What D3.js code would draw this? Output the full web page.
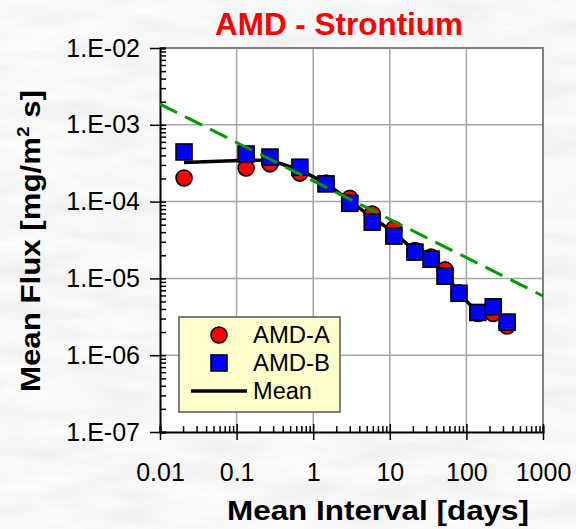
<!DOCTYPE html>
<html>
<head>
<meta charset="utf-8">
<script src="https://cdn.jsdelivr.net/npm/d3@7"></script>
<style>
  html, body { margin: 0; padding: 0; background: #eeeeee; }
  svg { display: block; font-family: "Liberation Sans", Arial, sans-serif; }
</style>
</head>
<body>
<svg id="chart" width="576" height="529"></svg>
<script>
// Mean interval (days) at which the fluxes were averaged
const intervals = [0.0206, 0.133, 0.273, 0.67, 1.47, 3.0, 5.9, 11.3, 21.3, 34.6, 52.6, 80, 141, 224, 340];
// Mean flux, mg/m² s
const amdA = [2.03e-4, 2.74e-4, 3.1e-4, 2.35e-4, 1.75e-4, 1.1e-4, 6.9e-5, 4.4e-5, 2.3e-5, 1.9e-5, 1.29e-5, 6.5e-6, 3.5e-6, 3.5e-6, 2.4e-6];
const amdB = [4.43e-4, 4.17e-4, 3.8e-4, 2.8e-4, 1.7e-4, 9.5e-5, 5.4e-5, 3.56e-5, 2.2e-5, 1.78e-5, 1.07e-5, 6.4e-6, 3.6e-6, 4.26e-6, 2.7e-6];
const meanFlux = [3.23e-4, 3.46e-4, 3.45e-4, 2.58e-4, 1.73e-4, 1.03e-4, 6.15e-5, 4.0e-5, 2.25e-5, 1.84e-5, 1.18e-5, 6.45e-6, 3.55e-6, 3.88e-6, 2.55e-6];
// Reference slope line (end points)
const slopeX = [0.01, 1000];
const slopeY = [1.86e-3, 5.9e-6];
// Axis ticks
const xTicks = [0.01, 0.1, 1, 10, 100, 1000];
const xTickLabels = ["0.01", "0.1", "1", "10", "100", "1000"];
const yTicks = [1e-7, 1e-6, 1e-5, 1e-4, 1e-3, 1e-2];
const yTickLabels = ["1.E-07", "1.E-06", "1.E-05", "1.E-04", "1.E-03", "1.E-02"];
const legendLabels = ["AMD-A", "AMD-B", "Mean"];

const svg = d3.select("#chart");
const W = 576, H = 529;
const plotL = 160, plotT = 48, plotW = 383, plotH = 384;

// Mottled grey backdrop
const defs = svg.append("defs");
const f = defs.append("filter").attr("id", "mottle").attr("x", 0).attr("y", 0).attr("width", 1).attr("height", 1);
f.append("feTurbulence").attr("type", "fractalNoise").attr("baseFrequency", "0.012 0.05").attr("numOctaves", 4).attr("seed", 7);
f.append("feColorMatrix").attr("type", "matrix")
  .attr("values", "0.18 0 0 0 0.84  0.18 0 0 0 0.84  0.18 0 0 0 0.84  0 0 0 0 1");
svg.append("rect").attr("width", W).attr("height", H).attr("fill", "#eee").attr("filter", "url(#mottle)");

const x = d3.scaleLog().domain([0.01, 1000]).range([plotL, plotL + plotW]);
const y = d3.scaleLog().domain([1e-7, 1e-2]).range([plotT + plotH, plotT]);

// Plot area
svg.append("rect").attr("x", plotL).attr("y", plotT).attr("width", plotW).attr("height", plotH).attr("fill", "#fff");

// Decade grid
const grid = svg.append("g").attr("stroke", "#a6a6a6").attr("stroke-width", 1.5);
grid.selectAll(".gx").data(xTicks.slice(1, -1)).join("line").attr("class", "gx")
  .attr("x1", d => x(d)).attr("x2", d => x(d)).attr("y1", plotT).attr("y2", plotT + plotH);
grid.selectAll(".gy").data(yTicks.slice(1, -1)).join("line").attr("class", "gy")
  .attr("y1", d => y(d)).attr("y2", d => y(d)).attr("x1", plotL).attr("x2", plotL + plotW);

// Frame (top and right)
svg.append("path")
  .attr("d", `M${plotL},${plotT}H${plotL + plotW}V${plotT + plotH}`)
  .attr("fill", "none").attr("stroke", "#808080").attr("stroke-width", 2);

// Minor tick values for each decade
const minors = (lo, hi) => {
  const out = [];
  for (let e = lo; e < hi; e++) for (let m = 1; m <= 9; m++) out.push(m * Math.pow(10, e));
  out.push(Math.pow(10, hi));
  return out;
};
const xMinor = minors(-2, 3);
const yMinor = minors(-7, -2);

const fontTick = 25;

// Y axis: labelled outer major ticks + inner minor ticks
const yAxisOuter = d3.axisLeft(y).tickValues(yTicks).tickSize(10).tickPadding(10)
  .tickFormat((d, i) => yTickLabels[i]);
const gy = svg.append("g").attr("transform", `translate(${plotL},0)`).call(yAxisOuter);
gy.select(".domain").remove();
gy.selectAll("line").attr("stroke", "#000").attr("stroke-width", 1.5);
gy.selectAll("text").attr("font-size", fontTick).attr("fill", "#000").attr("font-family", "Liberation Sans, Arial");

const yAxisInner = d3.axisRight(y).tickValues(yMinor).tickSize(6).tickFormat("");
const gy2 = svg.append("g").attr("transform", `translate(${plotL},0)`).call(yAxisInner);
gy2.select(".domain").attr("stroke", "#000").attr("stroke-width", 2);
gy2.selectAll("line").attr("stroke", "#000").attr("stroke-width", 1.5);

// X axis: labelled outer major ticks + inner minor ticks
const xAxisOuter = d3.axisBottom(x).tickValues(xTicks).tickSize(8).tickPadding(23)
  .tickFormat((d, i) => xTickLabels[i]);
const gx = svg.append("g").attr("transform", `translate(0,${plotT + plotH})`).call(xAxisOuter);
gx.select(".domain").remove();
gx.selectAll("line").attr("stroke", "#000").attr("stroke-width", 1.5);
gx.selectAll("text").attr("font-size", fontTick).attr("fill", "#000").attr("font-family", "Liberation Sans, Arial");

const xAxisInner = d3.axisTop(x).tickValues(xMinor).tickSize(6).tickFormat("");
const gx2 = svg.append("g").attr("transform", `translate(0,${plotT + plotH})`).call(xAxisInner);
gx2.select(".domain").attr("stroke", "#000").attr("stroke-width", 2);
gx2.selectAll("line").attr("stroke", "#000").attr("stroke-width", 1.5);
gx2.selectAll(".tick").filter(d => xTicks.includes(d)).select("line").attr("y2", -8);

// Mean line
const line = d3.line().x(d => x(d[0])).y(d => y(d[1]));
svg.append("path")
  .datum(intervals.map((t, i) => [t, meanFlux[i]]))
  .attr("d", line).attr("fill", "none").attr("stroke", "#000").attr("stroke-width", 3.5);

// AMD-A circles
svg.append("g").selectAll("circle").data(intervals.map((t, i) => [t, amdA[i]])).join("circle")
  .attr("cx", d => x(d[0])).attr("cy", d => y(d[1])).attr("r", 8)
  .attr("fill", "#ff0000").attr("stroke", "#000").attr("stroke-width", 1.6);

// AMD-B squares
const sq = 16;
svg.append("g").selectAll("rect").data(intervals.map((t, i) => [t, amdB[i]])).join("rect")
  .attr("x", d => x(d[0]) - sq / 2).attr("y", d => y(d[1]) - sq / 2)
  .attr("width", sq).attr("height", sq)
  .attr("fill", "#0000ff").attr("stroke", "#000").attr("stroke-width", 1.6);

// Slope reference line
svg.append("path")
  .datum(slopeX.map((t, i) => [t, slopeY[i]]))
  .attr("d", line).attr("fill", "none").attr("stroke", "#009a00")
  .attr("stroke-width", 3).attr("stroke-dasharray", "19,9");

// Legend
const lg = svg.append("g");
lg.append("rect").attr("x", 179).attr("y", 317).attr("width", 161).attr("height", 95)
  .attr("fill", "#ffffcc").attr("stroke", "#555").attr("stroke-width", 1.5);
lg.append("circle").attr("cx", 219).attr("cy", 335).attr("r", 8)
  .attr("fill", "#ff0000").attr("stroke", "#000").attr("stroke-width", 1.6);
lg.append("rect").attr("x", 219 - sq / 2).attr("y", 363 - sq / 2).attr("width", sq).attr("height", sq)
  .attr("fill", "#0000ff").attr("stroke", "#000").attr("stroke-width", 1.6);
lg.append("line").attr("x1", 191).attr("x2", 247).attr("y1", 391).attr("y2", 391)
  .attr("stroke", "#000").attr("stroke-width", 3.5);
const legendWidths = [77, 77, 59];
lg.selectAll("text").data(legendLabels).join("text")
  .attr("x", 253).attr("y", (d, i) => 343 + i * 28)
  .attr("font-size", 23).attr("fill", "#000")
  .attr("textLength", (d, i) => legendWidths[i]).attr("lengthAdjust", "spacingAndGlyphs")
  .text(d => d);

// Title
svg.append("text").attr("x", 339).attr("y", 35).attr("text-anchor", "middle")
  .attr("font-size", 32).attr("font-weight", "bold").attr("fill", "#ff0000")
  .attr("textLength", 248).attr("lengthAdjust", "spacingAndGlyphs")
  .text("AMD - Strontium");

// Axis titles
svg.append("text").attr("x", 378).attr("y", 520).attr("text-anchor", "middle")
  .attr("font-size", 28).attr("font-weight", "bold").attr("fill", "#000")
  .attr("textLength", 302).attr("lengthAdjust", "spacingAndGlyphs")
  .text("Mean Interval [days]");

const yt = svg.append("text").attr("transform", "translate(40,241) rotate(-90)")
  .attr("text-anchor", "middle").attr("font-size", 28).attr("font-weight", "bold").attr("fill", "#000")
  .attr("textLength", 302).attr("lengthAdjust", "spacingAndGlyphs");
yt.append("tspan").text("Mean Flux [mg/m");
yt.append("tspan").attr("font-size", 17).attr("dy", -11).text("2");
yt.append("tspan").attr("dy", 11).text(" s]");
</script>
</body>
</html>
